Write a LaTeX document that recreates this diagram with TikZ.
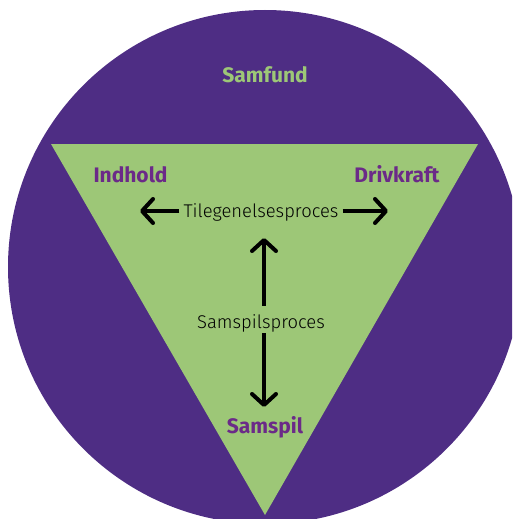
\documentclass[tikz,border=0pt]{standalone}
\usepackage{fontspec}
\setmainfont{Fira Sans}
\newfontfamily\tyndfont{Fira Sans Light}
\usetikzlibrary{arrows.meta}
\definecolor{samfundlilla}{HTML}{4E2D84}
\definecolor{trekantgroen}{HTML}{9DC777}
\definecolor{hjoernelilla}{HTML}{6B2A88}

\begin{document}
\begin{tikzpicture}[x=1pt,y=-1pt,
    >={Straight Barb[length=11pt,width=24pt,line cap=round,line join=round]},
    hjoerne/.style={anchor=base,font=\bfseries\fontsize{21}{25}\selectfont,text=hjoernelilla},
    proces/.style={anchor=base,font=\tyndfont\fontsize{18.4}{22}\selectfont,inner xsep=4pt},
    pil/.style={->,line width=4pt}]
  \useasboundingbox (0,0) rectangle (512,519);
  \clip (0,0) rectangle (512,519);
  % circle and triangle
  \fill[samfundlilla] (265,267) circle[radius=257pt];
  \fill[trekantgroen] (51,144) -- (478,144) -- (265,515) -- cycle;
  % labels
  \node[hjoerne,text=trekantgroen] (samfund) at (265,82) {Samfund};
  \foreach \navn/\xp/\yp/\tekst in {indhold/130.5/182/Indhold,
                                    drivkraft/397/182/Drivkraft,
                                    samspil/265/433/Samspil}
    \node[hjoerne] (\navn) at (\xp,\yp) {\tekst};
  % processes
  \node[proces] (tilegn) at (261,217) {Tilegenelsesproces};
  \node[proces,text height=20pt,text depth=3pt,inner ysep=2pt] (samsp) at (261,328) {Samspilsproces};
  \coordinate (venstre) at (140,211);
  \coordinate (hoejre) at (388,211);
  \coordinate (op) at (264,238);
  \coordinate (ned) at (264,407);
  % arrows
  \draw[pil] (tilegn.west |- venstre) -- (venstre);
  \draw[pil] (tilegn.east |- hoejre) -- (hoejre);
  \draw[pil] (samsp.north -| op) -- (op);
  \draw[pil] (samsp.south -| ned) -- (ned);
\end{tikzpicture}
\end{document}
